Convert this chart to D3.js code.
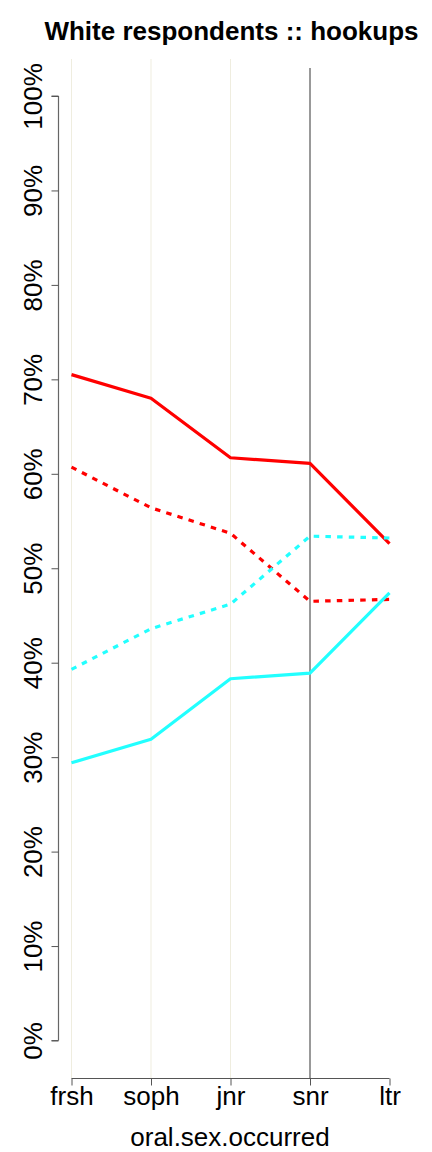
<!DOCTYPE html>
<html><head><meta charset="utf-8">
<script src="https://cdn.jsdelivr.net/npm/d3@7"></script>
<style>html,body{margin:0;padding:0;background:#fff;}svg{display:block;font-family:"Liberation Sans",Arial,Helvetica,sans-serif;}</style>
</head><body>
<svg id="c" width="432" height="1152"></svg>
<script>
const categories = ["frsh","soph","jnr","snr","ltr"];
const redSolid   = [70.5, 68.0, 61.7, 61.1, 52.6];
const redDotted  = [60.7, 56.4, 53.7, 46.5, 46.7];
const cyanDotted = [39.3, 43.6, 46.2, 53.4, 53.2];
const cyanSolid  = [29.4, 31.9, 38.3, 38.9, 47.4];
const yTicks = [0,10,20,30,40,50,60,70,80,90,100];
const title = "White respondents :: hookups";
const xLabel = "oral.sex.occurred";

const svg = d3.select("#c");
const x = d3.scalePoint().domain(categories).range([71.5, 389.5]);
const y = d3.scaleLinear().domain([0,100]).range([1040.5, 96]);

// gridlines
svg.append("g").selectAll("line").data(categories.slice(0,3)).join("line")
  .attr("x1", d=>x(d)).attr("x2", d=>x(d)).attr("y1", 59).attr("y2", 1078)
  .attr("stroke", "#EFEDDF").attr("stroke-width", 1);
svg.append("line").attr("x1", x("snr")).attr("x2", x("snr")).attr("y1", 68).attr("y2", 1078)
  .attr("stroke", "#555").attr("stroke-width", 1.2);

// y axis
const yAxis = svg.append("g").attr("transform","translate(58.5,0)")
  .call(d3.axisLeft(y).tickValues(yTicks).tickSize(7).tickPadding(16).tickFormat(d=>d+"%"));
yAxis.attr("font-family",null);
yAxis.select(".domain").attr("stroke","#666").attr("stroke-width",1.2).attr("d","M0,"+y(0)+"V"+y(100)+"M-7,"+y(100)+"H0M-7,"+y(0)+"H0");
yAxis.selectAll(".tick line").attr("stroke","#555");
yAxis.selectAll(".tick text").attr("font-size",26).attr("fill","#000")
  .attr("transform", "rotate(-90)").attr("x", 0).attr("y", -17).attr("dy", 0)
  .attr("text-anchor","middle");

// x axis
const xAxis = svg.append("g").attr("transform","translate(0,1078.5)")
  .call(d3.axisBottom(x).tickSize(7).tickPadding(4));
xAxis.attr("font-family",null);
xAxis.select(".domain").attr("stroke","#555").attr("stroke-width",1.2).attr("d","M"+x("frsh")+",0H"+x("ltr"));
xAxis.selectAll(".tick line").attr("stroke","#555");
xAxis.selectAll(".tick text").attr("font-size",26).attr("fill","#000").attr("dy","0.6em");

// lines
const line = d3.line().x((d,i)=>x(categories[i])).y(d=>y(d));
const series = [
  {v: redSolid, c:"#FF0000", dash:null},
  {v: redDotted, c:"#FF0000", dash:"5.5,6.2"},
  {v: cyanDotted, c:"#22FFFF", dash:"5.5,6.2"},
  {v: cyanSolid, c:"#22FFFF", dash:null}
];
svg.append("g").selectAll("path").data(series).join("path")
  .attr("d", d=>line(d.v)).attr("fill","none").attr("stroke", d=>d.c)
  .attr("stroke-width", 3.2).attr("stroke-dasharray", d=>d.dash)
  .attr("stroke-linejoin","round");

// title
svg.append("text").attr("x", 231.5).attr("y", 40).attr("text-anchor","middle")
  .attr("font-size",26).attr("font-weight","bold").text(title);
svg.append("text").attr("x", 230).attr("y", 1146).attr("text-anchor","middle")
  .attr("font-size",26).text(xLabel);
</script>
</body></html>
